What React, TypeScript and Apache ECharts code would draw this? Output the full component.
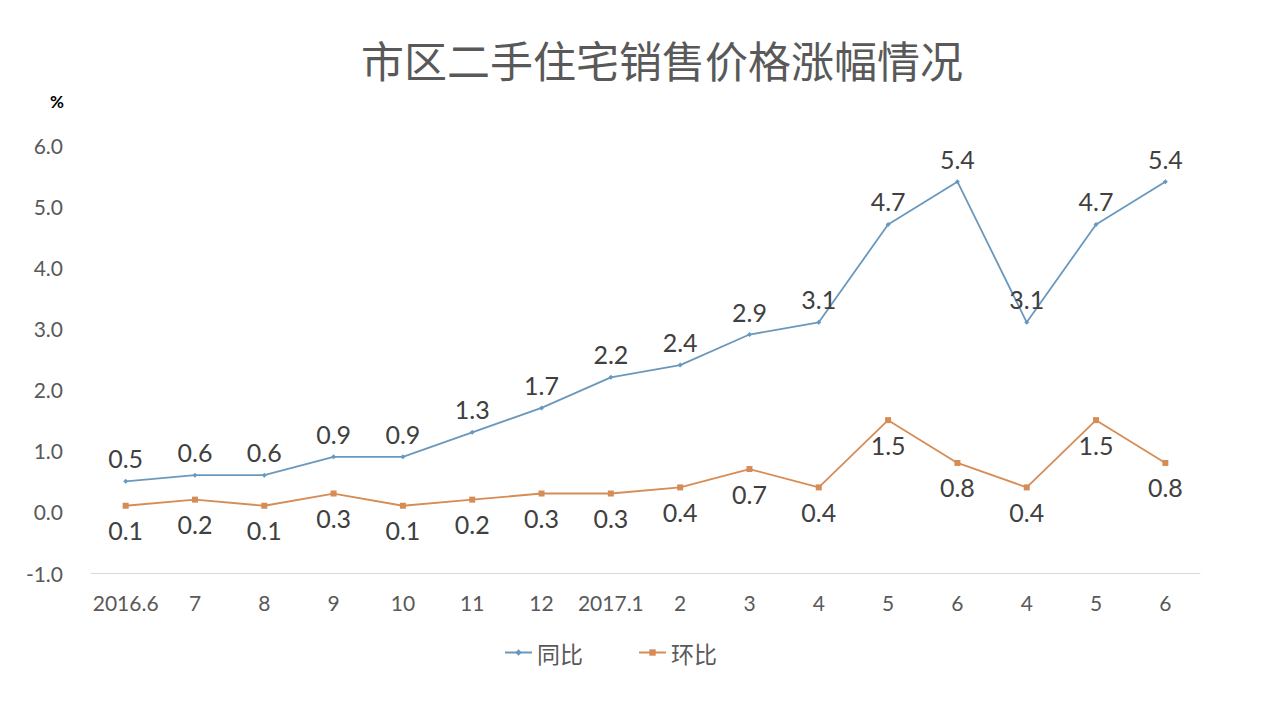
import React, { useEffect, useRef } from "react";
import * as echarts from "echarts";

const categories = ["2016.6", "7", "8", "9", "10", "11", "12", "2017.1", "2", "3", "4", "5", "6", "4", "5", "6"];
const yoyValues = [0.5, 0.6, 0.6, 0.9, 0.9, 1.3, 1.7, 2.2, 2.4, 2.9, 3.1, 4.7, 5.4, 3.1, 4.7, 5.4];
const momValues = [0.1, 0.2, 0.1, 0.3, 0.1, 0.2, 0.3, 0.3, 0.4, 0.7, 0.4, 1.5, 0.8, 0.4, 1.5, 0.8];
const seriesNames = ["同比", "环比"];
const titleText = "市区二手住宅销售价格涨幅情况";
const unitText = "%";

const FONT = "Lato, 'Noto Sans', sans-serif";

export default function App() {
  const ref = useRef<HTMLDivElement>(null);
  useEffect(() => {
    if (!ref.current) return;
    const chart = echarts.init(ref.current, undefined, { renderer: "svg" });
    chart.setOption({
      animation: false,
      backgroundColor: "#ffffff",
      title: {
        text: titleText,
        left: 356,
        top: 32,
        textStyle: {
          fontFamily: "'Noto Sans CJK SC', sans-serif",
          fontSize: 43,
          fontWeight: "normal",
          color: "#595959",
        },
      },
      graphic: [
        {
          type: "text",
          left: 50,
          top: 93,
          style: { text: unitText, fontFamily: FONT, fontSize: 17, fontWeight: "bold", fill: "#000000" },
        },
      ],
      legend: {
        data: seriesNames,
        left: 499,
        top: 636,
        itemWidth: 27,
        itemHeight: 8,
        itemGap: 55,
        textStyle: { fontFamily: "'Noto Sans CJK SC', sans-serif", fontSize: 23, color: "#595959" },
      },
      grid: { left: 91, right: 80, top: 145, bottom: 147, containLabel: false },
      xAxis: {
        type: "category",
        data: categories,
        boundaryGap: true,
        axisLine: { show: true, onZero: false, lineStyle: { color: "#d9d9d9", width: 1 } },
        axisTick: { show: false },
        axisLabel: { fontFamily: FONT, fontSize: 21, color: "#595959", margin: 19, interval: 0 },
        splitLine: { show: false },
      },
      yAxis: {
        type: "value",
        min: -1,
        max: 6,
        interval: 1,
        axisLine: { show: false },
        axisTick: { show: false },
        splitLine: { show: false },
        axisLabel: {
          fontFamily: FONT,
          fontSize: 21,
          color: "#595959",
          margin: 28,
          formatter: (v: number) => v.toFixed(1),
        },
      },
      series: [
        {
          name: seriesNames[0],
          type: "line",
          data: yoyValues,
          symbol: "diamond",
          symbolSize: 5,
          lineStyle: { color: "#6a98bd", width: 1.8 },
          itemStyle: { color: "#6a98bd" },
          label: {
            show: true,
            position: "top",
            distance: 8,
            fontFamily: FONT,
            fontSize: 25,
            color: "#404040",
            formatter: (p: any) => Number(p.value).toFixed(1),
          },
        },
        {
          name: seriesNames[1],
          type: "line",
          data: momValues,
          symbol: "rect",
          symbolSize: 6,
          lineStyle: { color: "#d68c55", width: 1.8 },
          itemStyle: { color: "#d68c55" },
          label: {
            show: true,
            position: "bottom",
            distance: 9,
            fontFamily: FONT,
            fontSize: 25,
            color: "#404040",
            formatter: (p: any) => Number(p.value).toFixed(1),
          },
        },
      ],
    });
    return () => chart.dispose();
  }, []);
  return (
    <div
      ref={ref}
      style={{ position: "fixed", left: 0, top: 0, width: 1280, height: 720, background: "#fff" }}
    />
  );
}
